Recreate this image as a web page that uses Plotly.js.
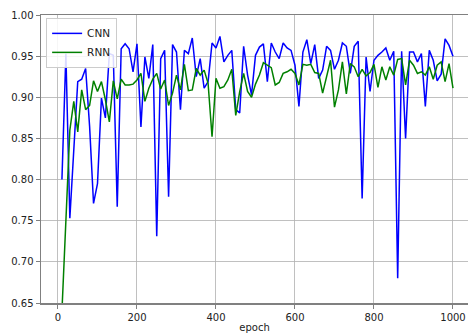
<!DOCTYPE html>
<html>
<head>
<meta charset="utf-8">
<script src="https://cdn.plot.ly/plotly-3.0.1.min.js"></script>
<style>html,body{margin:0;padding:0;background:#fff;}#chart{width:468px;height:333px;}</style>
</head>
<body>
<div id="chart"></div>
<script>
const epochs = [];
for (let e = 10; e <= 1000; e += 10) epochs.push(e);

const cnnAcc = [
0.800,0.953,0.753,0.840,0.919,0.922,0.935,0.865,0.771,0.795,
0.899,0.875,0.953,0.951,0.767,0.959,0.965,0.959,0.931,0.965,
0.864,0.949,0.923,0.964,0.731,0.947,0.957,0.779,0.964,0.955,
0.885,0.957,0.953,0.972,0.925,0.947,0.911,0.919,0.966,0.960,
0.974,0.943,0.951,0.957,0.885,0.881,0.962,0.927,0.903,0.951,
0.961,0.965,0.919,0.966,0.955,0.947,0.966,0.960,0.957,0.939,
0.889,0.955,0.970,0.941,0.964,0.923,0.933,0.962,0.957,0.934,
0.945,0.966,0.962,0.929,0.962,0.968,0.777,0.949,0.907,0.945,
0.951,0.955,0.960,0.945,0.956,0.680,0.956,0.850,0.955,0.955,
0.943,0.953,0.889,0.957,0.945,0.920,0.928,0.971,0.963,0.950
];

const rnnAcc = [
0.640,0.750,0.860,0.895,0.858,0.909,0.885,0.890,0.920,0.907,
0.919,0.897,0.870,0.920,0.898,0.922,0.915,0.915,0.916,0.921,
0.929,0.895,0.911,0.922,0.929,0.910,0.921,0.890,0.905,0.927,
0.909,0.940,0.908,0.909,0.935,0.927,0.933,0.917,0.852,0.923,
0.911,0.913,0.921,0.934,0.878,0.907,0.929,0.907,0.900,0.916,
0.927,0.942,0.939,0.936,0.915,0.918,0.929,0.931,0.934,0.929,
0.915,0.940,0.939,0.940,0.930,0.929,0.905,0.927,0.945,0.888,
0.909,0.943,0.904,0.941,0.937,0.925,0.934,0.926,0.930,0.940,
0.912,0.937,0.921,0.937,0.927,0.946,0.947,0.915,0.945,0.939,
0.929,0.931,0.927,0.937,0.922,0.939,0.943,0.919,0.941,0.911
];

const seriesNames = ['CNN', 'RNN'];
const xTicks = [0, 200, 400, 600, 800, 1000];
const yTicks = [0.65, 0.70, 0.75, 0.80, 0.85, 0.90, 0.95, 1.00];

const traces = [
  {x: epochs, y: cnnAcc, name: seriesNames[0], type: 'scatter', mode: 'lines',
   line: {color: '#0000ff', width: 1.5}},
  {x: epochs, y: rnnAcc, name: seriesNames[1], type: 'scatter', mode: 'lines',
   line: {color: '#008000', width: 1.5}}
];

const font = {family: 'DejaVu Sans, sans-serif', size: 10, color: '#222'};

const layout = {
  width: 468, height: 333,
  margin: {l: 41, r: 0, t: 15, b: 30, pad: 0},
  paper_bgcolor: '#fff', plot_bgcolor: '#fff',
  font: font,
  showlegend: true,
  legend: {x: 0.012, y: 0.99, xanchor: 'left', yanchor: 'top',
           bgcolor: 'rgba(255,255,255,0.85)', bordercolor: '#cccccc', borderwidth: 1,
           font: {family: 'DejaVu Sans, sans-serif', size: 10.5, color: '#222'},
           itemwidth: 30, tracegroupgap: 0},
  xaxis: {
    range: [-43, 1038], tickvals: xTicks, ticktext: xTicks.map(String),
    showgrid: true, gridcolor: '#b0b0b0', gridwidth: 0.8,
    showline: true, linecolor: '#808080', linewidth: 1.5, mirror: true,
    ticks: 'outside', ticklen: 4, tickcolor: '#808080', tickwidth: 1,
    zeroline: false, tickfont: font,
    title: {text: 'epoch', font: font, standoff: 3}
  },
  yaxis: {
    range: [0.65, 1.00], tickvals: yTicks, ticktext: yTicks.map(v => v.toFixed(2)),
    showgrid: true, gridcolor: '#b0b0b0', gridwidth: 0.8,
    showline: true, linecolor: '#808080', linewidth: 1.5, mirror: false,
    ticks: 'outside', ticklen: 4, tickcolor: '#808080', tickwidth: 1,
    zeroline: false, tickfont: font
  }
};

Plotly.newPlot('chart', traces, layout, {displayModeBar: false, staticPlot: true});
</script>
</body>
</html>
